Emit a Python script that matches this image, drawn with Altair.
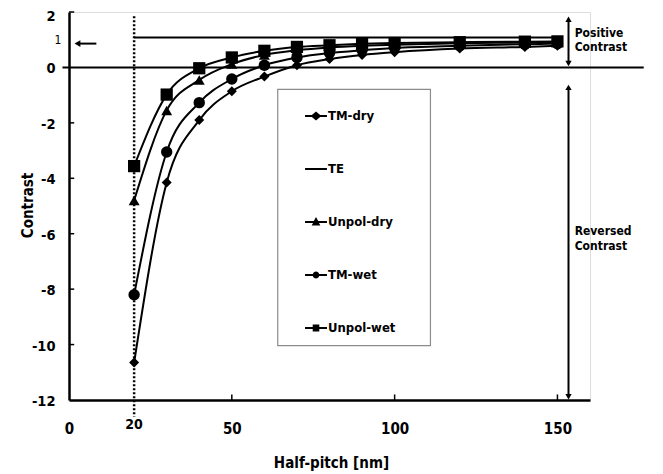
import altair as alt
import pandas as pd

half_pitch = [20, 30, 40, 50, 60, 70, 80, 90, 100, 120, 140, 150]
tm_dry = [-10.65, -4.15, -1.9, -0.86, -0.33, 0.08, 0.3, 0.45, 0.55, 0.68, 0.74, 0.78]
te = [1.08, 1.08, 1.08, 1.08, 1.08, 1.08, 1.08, 1.08, 1.08, 1.08, 1.08, 1.08]
unpol_dry = [-4.8, -1.55, -0.45, 0.12, 0.45, 0.62, 0.72, 0.78, 0.82, 0.87, 0.9, 0.92]
tm_wet = [-8.2, -3.05, -1.27, -0.42, 0.08, 0.36, 0.52, 0.62, 0.7, 0.78, 0.84, 0.86]
unpol_wet = [-3.56, -0.98, -0.03, 0.36, 0.6, 0.74, 0.8, 0.85, 0.88, 0.91, 0.93, 0.94]

series_names = ["TM-dry", "TE", "Unpol-dry", "TM-wet", "Unpol-wet"]
series_values = [tm_dry, te, unpol_dry, tm_wet, unpol_wet]
point_shapes = ["diamond", "stroke", "triangle-up", "circle", "square"]
point_sizes = [100, 0, 120, 130, 150]
legend_paths = [
    "M-1,-0.09H-0.38L0,-0.42L0.38,-0.09H1V0.09H0.38L0,0.42L-0.38,0.09H-1Z",
    "M-1,-0.09H1V0.09H-1Z",
    "M-1,-0.09H-0.2L0,-0.45L0.2,-0.09H1V0.09H0.27L0.4,0.32H-0.4L-0.27,0.09H-1Z",
    "M-1,-0.09H-0.29A0.3,0.3 0 0 1 0.29,-0.09H1V0.09H0.29A0.3,0.3 0 0 1 -0.29,0.09H-1Z",
    "M-1,-0.09H-0.3V-0.32H0.3V-0.09H1V0.09H0.3V0.32H-0.3V0.09H-1Z",
]

x_ticks = [0, 50, 100, 150]
y_ticks = [-12, -10, -8, -6, -4, -2, 0, 2]

FONT = "DejaVu Sans Condensed, DejaVu Sans"

rows = []
for name, vals, shp, sz in zip(series_names, series_values, point_shapes, point_sizes):
    for hp, v in zip(half_pitch, vals):
        rows.append({"x": hp, "y": v, "series": name, "shp": shp, "sz": sz})
df = pd.DataFrame(rows)

xs = alt.Scale(domain=[0, 160], nice=False, zero=False)
ys = alt.Scale(domain=[-12, 2], nice=False, zero=False)

AX_X = alt.Axis(
    values=x_ticks, title="Half-pitch [nm]", grid=False, ticks=False, tickSize=0,
    labelPadding=21, labelFontSize=15, labelFont=FONT, labelFontWeight="bold",
    labelColor="black", domainColor="black", domainWidth=2.5, labelFlush=False,
    labelExpr="'' + datum.value",
    titleFont=FONT, titleFontSize=15, titleFontWeight="bold", titleColor="black",
    titleX=262, titleY=62, titleBaseline="middle", titleAlign="center")
AX_Y = alt.Axis(
    values=y_ticks, title="Contrast", grid=False, ticks=False, tickSize=0,
    labelPadding=14, labelFontSize=14.5, labelFont=FONT, labelFontWeight="bold",
    labelColor="black", domainColor="black", domainWidth=2.5, labelFlush=False,
    labelExpr="'' + datum.value",
    labelOffset={"expr": "datum.value == 2 ? 4 : 1.5"},
    titleFont=FONT, titleFontSize=15, titleFontWeight="bold", titleColor="black",
    titleX=-42, titleY=193, titleBaseline="middle", titleAlign="center")


def X(f="x"):
    return alt.X(f, type="quantitative", scale=xs, axis=AX_X)


def Y(f="y"):
    return alt.Y(f, type="quantitative", scale=ys, axis=AX_Y)


# legend box
box = alt.Chart(pd.DataFrame({"x": [64.1], "x2": [111.0], "y": [-0.79], "y2": [-10.04]})).mark_rect(
    fill="white", stroke="#8c8c8c", strokeWidth=1.2
).encode(x=X(), x2="x2", y=Y(), y2="y2")

# dotted vertical line at 20
dotted = alt.Chart(pd.DataFrame({"x": [20], "y": [1.85], "y2": [-12.6]})).mark_rule(
    color="black", strokeWidth=2.5, strokeDash=[2, 2], clip=False
).encode(x=X(), y=Y(), y2="y2")

# zero line
zero = alt.Chart(pd.DataFrame({"x": [-2], "x2": [176.5], "y": [0]})).mark_rule(
    color="black", strokeWidth=2, clip=False
).encode(x=X(), x2="x2", y=Y())

lines = alt.Chart(df).mark_line(color="black", strokeWidth=2, interpolate="monotone").encode(
    x=X(), y=Y(), detail="series:N"
)

pts = alt.Chart(df[df.series != "TE"]).mark_point(filled=True, color="black", opacity=1).encode(
    x=X(), y=Y(),
    shape=alt.Shape("shp:N", scale=None, legend=None),
    size=alt.Size("sz:Q", scale=None, legend=None),
)

leg_df = pd.DataFrame({"x": [-60] * 5, "y": [0] * 5, "series": series_names})
legend_layer = alt.Chart(leg_df).mark_point(filled=True, color="black", opacity=1, clip=True).encode(
    x=X(), y=Y(),
    shape=alt.Shape("series:N", scale=alt.Scale(domain=series_names, range=legend_paths),
                    legend=alt.Legend(
                        title=None, orient="none", legendX=236, legendY=93, direction="vertical",
                        symbolSize=480, symbolFillColor="black", symbolStrokeColor="black",
                        symbolStrokeWidth=0, symbolOpacity=1, rowPadding=35, labelOffset=1,
                        labelFont=FONT, labelFontSize=13, labelFontWeight="bold",
                        labelColor="black", padding=0)),
)

# inside ticks
tick_y = alt.Chart(pd.DataFrame({"y": [-10, -8, -6, -4, -2, 2], "x": [0] * 6, "x2": [1.6] * 6})).mark_rule(
    color="black", strokeWidth=1.5).encode(x=X(), x2="x2", y=Y())
tick_x = alt.Chart(pd.DataFrame({"x": [50, 100, 150], "y": [-12] * 3, "y2": [-11.8] * 3})).mark_rule(
    color="black", strokeWidth=1.5).encode(x=X(), y=Y(), y2="y2")

# annotation: "1" with arrow, "20" label
one_txt = alt.Chart(pd.DataFrame({"x": [-3.4], "y": [1.0], "t": ["1"]})).mark_text(
    font=FONT, fontSize=12, color="black", align="center", baseline="middle", clip=False
).encode(x=X(), y=Y(), text="t")
one_arrow = alt.Chart(pd.DataFrame({"x": [3.0], "x2": [8.4], "y": [0.86]})).mark_rule(
    color="black", strokeWidth=2, clip=False).encode(x=X(), x2="x2", y=Y())
one_head = alt.Chart(pd.DataFrame({"x": [2.6], "y": [0.86]})).mark_point(
    shape="triangle-left", filled=True, color="black", size=45, opacity=1, clip=False
).encode(x=X(), y=Y())
twenty = alt.Chart(pd.DataFrame({"x": [20], "y": [-12.9], "t": ["20"]})).mark_text(
    font=FONT, fontSize=14, fontWeight="bold", color="black", align="center", baseline="middle", clip=False
).encode(x=X(), y=Y(), text="t")

# right side arrows
arr = alt.Chart(pd.DataFrame({"x": [153.4, 153.4], "y": [1.75, -0.72], "y2": [0.12, -11.9]})).mark_rule(
    color="black", strokeWidth=2, clip=False).encode(x=X(), y=Y(), y2="y2")
heads = alt.Chart(pd.DataFrame({"x": [153.4] * 4, "y": [1.74, 0.14, -0.72, -11.88],
                                "s": ["triangle-up", "triangle-down", "triangle-up", "triangle-down"]})).mark_point(
    filled=True, color="black", size=40, opacity=1, clip=False
).encode(x=X(), y=Y(), shape=alt.Shape("s:N", scale=None, legend=None))

ann_text = alt.Chart(pd.DataFrame({
    "x": [155.3, 155.3, 155.3, 155.3],
    "y": [1.25, 0.72, -5.9, -6.43],
    "t": ["Positive", "Contrast", "Reversed", "Contrast"],
})).mark_text(font=FONT, fontSize=12, fontWeight="bold", color="black", align="left",
              baseline="middle", clip=False).encode(x=X(), y=Y(), text="t")

chart = alt.layer(
    box, zero, dotted, lines, pts, legend_layer, tick_y, tick_x,
    one_txt, one_arrow, one_head, twenty, arr, heads, ann_text
).resolve_scale(shape="independent", size="independent").properties(
    width=521, height=388,
    autosize=alt.AutoSizeParams(type="none"),
    padding={"left": 61, "top": 4, "right": 58, "bottom": 74},
).configure_view(stroke=None).configure(background="white")

chart.save("out.html", embed_options={"renderer": "svg", "actions": False})
